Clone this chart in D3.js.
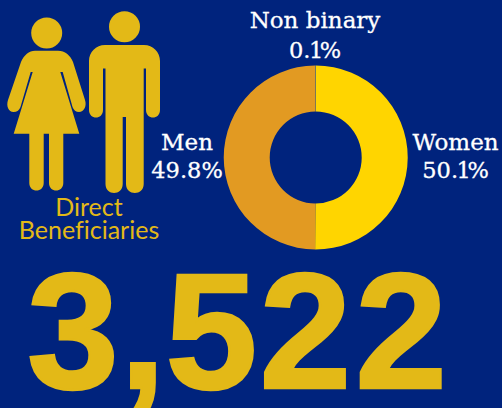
<!DOCTYPE html>
<html>
<head>
<meta charset="utf-8">
<script src="https://cdn.jsdelivr.net/npm/d3@7"></script>
<style>
html, body { margin: 0; padding: 0; background: #00237d; overflow: hidden; }
svg { display: block; }
</style>
</head>
<body>
<svg></svg>
<script>
'use strict';

var categories = ['Women', 'Men', 'Non binary'];
var shares = [50.1, 49.8, 0.1];
var shareLabels = ['50.1%', '49.8%', '0.1%'];
var sliceColors = ['#ffd500', '#e29a22', '#7f8a70'];
var total = '3,522';
var caption = ['Direct', 'Beneficiaries'];

var width = 502, height = 408;
var gold = '#e3b917';

var svg = d3.select('svg')
    .attr('width', width)
    .attr('height', height)
    .style('background-color', '#00237d');

// donut
var pie = d3.pie().sort(null).value(function (d) { return d; });
var arc = d3.arc().innerRadius(46).outerRadius(92);

svg.append('g')
    .attr('transform', 'translate(315.7,157.5)')
    .selectAll('path')
    .data(pie(shares))
    .enter().append('path')
    .attr('d', arc)
    .attr('fill', function (d, i) { return sliceColors[i]; });

// the original face has a narrow 1, so pull the glyphs in around it
function tightenOnes(label) {
    return label.split('').map(function (c, i) {
        if (c === '1') return -1.5;
        if (i > 0 && label[i - 1] === '1') return -3.5;
        return 0;
    }).join(' ');
}

// slice labels, placed by hand around the ring
var labelPos = [[455.5, 150, 28], [187, 150, 28], [315, 28, 29.5]];
var labels = svg.append('g')
    .attr('font-family', '"DejaVu Serif", serif')
    .attr('font-size', 23)
    .attr('fill', '#fff')
    .attr('stroke', '#fff')
    .attr('stroke-width', 0.3)
    .attr('text-anchor', 'middle');

categories.forEach(function (name, i) {
    labels.append('text').attr('x', labelPos[i][0]).attr('y', labelPos[i][1]).text(name);
    labels.append('text')
        .attr('x', labelPos[i][0])
        .attr('y', labelPos[i][1] + labelPos[i][2])
        .attr('font-size', 22.5)
        .attr('dx', tightenOnes(shareLabels[i]))
        .text(shareLabels[i]);
});

// pictograms
var icons = svg.append('g').attr('fill', gold);

icons.append('circle').attr('cx', 46.7).attr('cy', 33).attr('r', 15.5);
icons.append('path').attr('d',
    'M35 50.7 H58 C65 50.7 70 55 73 62 L85 100 C87 106 84 112 79 112 C76 112 73.500 110 72.500 107 ' +
    'L62.700 72 L60.300 72 L79.300 133.700 H63.300 V183 C63.300 193 49 193 49 183 V133.700 H43.700 V183 ' +
    'C43.700 193 29.300 193 29.300 183 V133.700 H13.700 L32.700 72 L30.700 72 L20.500 107 C19.500 110 17 112 13.500 112 ' +
    'C8.500 112 6 106 8 100 L21 62 C24 55 29 50.700 35 50.700 Z');

icons.append('circle').attr('cx', 124.5).attr('cy', 26.7).attr('r', 15.5);
icons.append('path').attr('d',
    'M105 45 H144 C153 45 160 52 160 61 V110 C160 120 146 120 146 110 V68.500 H143.700 V184 ' +
    'C143.700 196 126 196 126 184 V117 H122.700 V184 C122.700 196 105.500 196 105.500 184 V68.500 H103 V110 ' +
    'C103 120 89 120 89 110 V61 C89 52 96 45 105 45 Z');

// caption, one text so the tight leading stays as in the picture
var cap = svg.append('text')
    .attr('font-family', 'Lato, sans-serif')
    .attr('font-size', 25)
    .attr('fill', gold)
    .attr('text-anchor', 'middle')
    .style('font-variant-ligatures', 'none');
cap.append('tspan').attr('x', 89).attr('y', 216).text(caption[0]);
cap.append('tspan').attr('x', 89).attr('y', 239).text(caption[1]);

// big number
svg.append('text')
    .attr('x', 27)
    .attr('y', 388)
    .attr('dx', '0 -3 -4 -2 0')
    .attr('font-family', '"Liberation Sans", sans-serif')
    .attr('font-weight', 'bold')
    .attr('font-size', 165)
    .attr('letter-spacing', 4)
    .attr('fill', gold)
    .attr('stroke', gold)
    .attr('stroke-width', 2.500)
    .text(total);
</script>
</body>
</html>
